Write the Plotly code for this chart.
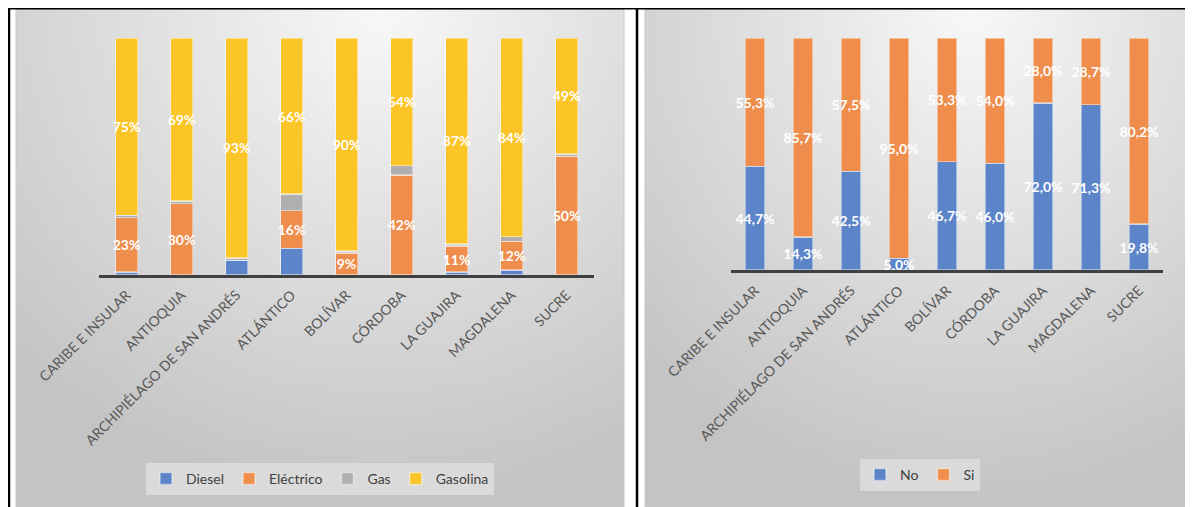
import base64, struct, zlib, math
import plotly.graph_objects as go

categories = ["CARIBE E INSULAR", "ANTIOQUIA", "ARCHIPIÉLAGO DE SAN ANDRÉS", "ATLÁNTICO",
              "BOLÍVAR", "CÓRDOBA", "LA GUAJIRA", "MAGDALENA", "SUCRE"]

# Left chart: fuel type (%)
diesel    = [1, 0, 6, 11, 0, 0, 1, 2, 0]
electrico = [23, 30, 0, 16, 9, 42, 11, 12, 50]
gas       = [1, 1, 1, 7, 1, 4, 1, 2, 1]
gasolina  = [75, 69, 93, 66, 90, 54, 87, 84, 49]

# Right chart: No / Si (%)
no_vals = [44.7, 14.3, 42.5, 5.0, 46.7, 46.0, 72.0, 71.3, 19.8]
si_vals = [55.3, 85.7, 57.5, 95.0, 53.3, 54.0, 28.0, 28.7, 80.2]

OFF = 8  # page body margin
W, H = 1193 - OFF, 507 - OFF
C_BLUE, C_ORANGE, C_GRAY, C_YELLOW = "#5B84C9", "#EE8D4C", "#AFAFAF", "#FCC527"
FONT = "Lato"


def gradient_png(w, h, cx, cy, rx, ry, c0, c1):
    rows = []
    for j in range(h):
        row = bytearray([0])
        for i in range(w):
            dx = (i / (w - 1) - cx) / rx
            dy = (j / (h - 1) - cy) / ry
            t = min(1.0, math.sqrt(dx * dx + dy * dy))
            v = int(round(c0 + (c1 - c0) * t))
            row += bytes([v, v, v])
        rows.append(bytes(row))
    raw = b"".join(rows)

    def chunk(tag, data):
        return (struct.pack(">I", len(data)) + tag + data +
                struct.pack(">I", zlib.crc32(tag + data) & 0xFFFFFFFF))

    png = (b"\x89PNG\r\n\x1a\n" +
           chunk(b"IHDR", struct.pack(">IIBBBBB", w, h, 8, 2, 0, 0, 0)) +
           chunk(b"IDAT", zlib.compress(raw)) + chunk(b"IEND", b""))
    return "data:image/png;base64," + base64.b64encode(png).decode()


bg_img = gradient_png(80, 80, 0.6, 0.0, 0.87, 1.0, 248, 196)

def px(x):
    return (x - OFF) / W

def py(y):
    return 1 - (y - OFF) / H

fig = go.Figure()

def pct0(vals):
    return [f"{v:.0f}%" if v > 0 else "" for v in vals]

def pct1(vals):
    return [f"{v:.1f}%".replace(".", ",") for v in vals]

line_style = dict(color="rgba(255,255,255,0.45)", width=1.5)
text_font = dict(family=FONT, size=14, color="white", weight="bold")

left = [("Diesel", diesel, C_BLUE, None),
        ("Eléctrico", electrico, C_ORANGE, pct0(electrico)),
        ("Gas", gas, C_GRAY, None),
        ("Gasolina", gasolina, C_YELLOW, pct0(gasolina))]
for name, vals, col, txt in left:
    fig.add_trace(go.Bar(
        x=categories, y=vals, name=name, marker=dict(color=col, line=line_style),
        text=txt, textposition="inside" if txt else "none", insidetextanchor="middle",
        textangle=0, constraintext="none", textfont=text_font,
        xaxis="x", yaxis="y", legend="legend", hoverinfo="skip"))

right = [("No", no_vals, C_BLUE), ("Si", si_vals, C_ORANGE)]
for name, vals, col in right:
    fig.add_trace(go.Bar(
        x=categories, y=vals, name=name, marker=dict(color=col, line=line_style),
        text=pct1(vals), textposition="inside", insidetextanchor="middle",
        textangle=0, constraintext="none", textfont=text_font,
        xaxis="x2", yaxis="y2", legend="legend2", hoverinfo="skip"))

xcommon = dict(type="category", tickangle=-45, showline=True, linecolor="#404040",
               linewidth=3, showgrid=False, zeroline=False, ticks="", automargin=False,
               ticklabelstandoff=4,
               tickfont=dict(family=FONT, size=14, color="#595959"), fixedrange=True)
ycommon = dict(range=[0, 100], showgrid=False, zeroline=False, showticklabels=False,
               showline=False, fixedrange=True, automargin=False)

legcommon = dict(orientation="h", xanchor="center", yanchor="middle",
                 bgcolor="#dadada", font=dict(family=FONT, size=14, color="#404040"),
                 itemwidth=30, borderwidth=0, traceorder="normal")

fig.update_layout(
    width=W, height=H, margin=dict(l=0, r=0, t=0, b=0, autoexpand=False),
    paper_bgcolor="white", plot_bgcolor="rgba(0,0,0,0)",
    barmode="stack", bargap=0.6,
    xaxis=dict(domain=[px(99), px(594)], anchor="y", **xcommon),
    yaxis=dict(domain=[py(274.5), py(38)], anchor="x", **ycommon),
    xaxis2=dict(domain=[px(731), px(1163)], anchor="y2", **xcommon),
    yaxis2=dict(domain=[py(270), py(38)], anchor="x2", **ycommon),
    legend=dict(x=px(320), y=py(479), **legcommon),
    legend2=dict(x=px(920), y=py(475), **legcommon),
    images=[
        dict(source=bg_img, xref="paper", yref="paper", x=px(16), y=py(9),
             sizex=px(624) - px(16), sizey=py(9) - py(507), sizing="stretch", layer="below"),
        dict(source=bg_img, xref="paper", yref="paper", x=px(645), y=py(9),
             sizex=px(1190) - px(645), sizey=py(9) - py(507), sizing="stretch", layer="below"),
    ],
    shapes=[
        dict(type="line", xref="paper", yref="paper", x0=0, x1=1, y0=py(8.5), y1=py(8.5),
             line=dict(color="black", width=2)),
        dict(type="line", xref="paper", yref="paper", x0=px(9), x1=px(9), y0=1, y1=0,
             line=dict(color="black", width=2.5)),
        dict(type="line", xref="paper", yref="paper", x0=px(637), x1=px(637), y0=1, y1=0,
             line=dict(color="black", width=2.5)),
        dict(type="rect", xref="paper", yref="paper", x0=px(16), x1=px(624), y0=py(9.5), y1=0,
             line=dict(color="#c8c8c8", width=1), layer="below"),
        dict(type="rect", xref="paper", yref="paper", x0=px(645), x1=px(1190), y0=py(9.5), y1=0,
             line=dict(color="#c8c8c8", width=1), layer="below"),
    ],
    showlegend=True,
)

fig.write_html("out.html")
